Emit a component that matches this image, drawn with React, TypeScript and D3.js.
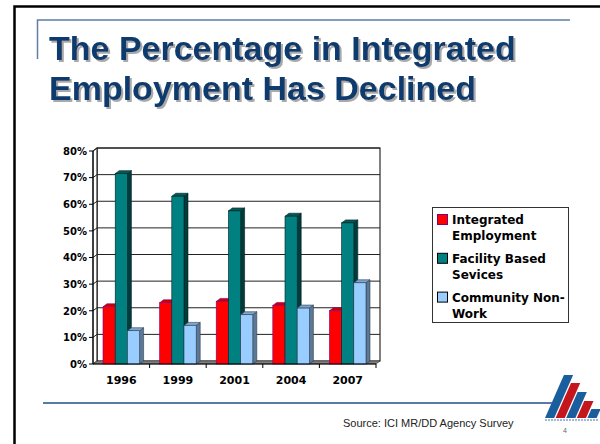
import React from "react";
import * as d3 from "d3";

const years = ["1996", "1999", "2001", "2004", "2007"];
const integrated = [21.5, 23, 23.5, 22, 20];
const facility = [71.5, 63, 57.5, 55.5, 53];
const community = [12.5, 14.5, 18.5, 21, 30.5];
const yTicks = [0, 10, 20, 30, 40, 50, 60, 70, 80];
const legendLines = [
  ["Integrated", "Employment"],
  ["Facility Based", "Sevices"],
  ["Community Non-", "Work"],
];
const titleLines = ["The Percentage in Integrated", "Employment Has Declined"];
const sourceText = "Source: ICI MR/DD Agency Survey";

const seriesStyle = [
  { front: "#FF0000", side: "#990000", top: "#CC0000", stroke: "#800080" },
  { front: "#008080", side: "#003C3C", top: "#005A5A", stroke: "#002020" },
  { front: "#99CCFF", side: "#5B7896", top: "#7CA6CF", stroke: "#2E3E50" },
];

export default function App() {
  const W = 600, H = 444;
  const dx = 4, dy = -3;
  const x = d3.scaleBand<string>().domain(years).range([93, 376]).padding(0);
  const inner = d3
    .scaleBand<number>()
    .domain([0, 1, 2])
    .range([0, x.bandwidth()])
    .paddingInner(0)
    .paddingOuter(0.82);
  const y = d3.scaleLinear().domain([0, 80]).range([364, 151]);
  const data = [integrated, facility, community];
  const x0 = x.range()[0], x1 = x.range()[1];
  const y0 = y(0), yTop = y(80);
  const bw = inner.bandwidth();

  const bars: React.ReactNode[] = [];
  years.forEach((yr, ci) => {
    data.forEach((vals, si) => {
      const bx = (x(yr) as number) + (inner(si) as number);
      const by = y(vals[ci]);
      const s = seriesStyle[si];
      const side = [
        [bx + bw, by],
        [bx + bw + dx, by + dy],
        [bx + bw + dx, y0 + dy],
        [bx + bw, y0],
      ];
      const top = [
        [bx, by],
        [bx + dx, by + dy],
        [bx + bw + dx, by + dy],
        [bx + bw, by],
      ];
      bars.push(
        <g key={`${ci}-${si}`}>
          <polygon points={side.map((p) => p.join(",")).join(" ")} fill={s.side} stroke={s.stroke} strokeWidth={0.6} />
          <polygon points={top.map((p) => p.join(",")).join(" ")} fill={s.top} stroke={s.stroke} strokeWidth={0.6} />
          <rect x={bx} y={by} width={bw} height={y0 - by} fill={s.front} stroke={s.stroke} strokeWidth={0.6} />
        </g>
      );
    });
  });

  const titleFont = { fontFamily: "'Liberation Sans', Arial, sans-serif", fontWeight: 700, fontSize: 34 };
  const chartFont = "'DejaVu Sans', Verdana, sans-serif";

  const logoTops = [375, 383, 392, 401, 409];
  const logoColors = ["#1B5E9E", "#C4161C", "#1B5E9E", "#C4161C", "#1B5E9E"];
  const k = 0.44;

  return (
    <svg width={W} height={H} style={{ position: "absolute", left: 0, top: 0, background: "#fff" }}>
      <defs>
        <filter id="tshadow" x="-5%" y="-20%" width="110%" height="150%">
          <feDropShadow dx={2} dy={2} stdDeviation={0.6} floodColor="#9A9A9A" floodOpacity={0.85} />
        </filter>
      </defs>
      <rect x={0} y={0} width={W} height={H} fill="#fff" />
      {/* slide frame */}
      <path d={`M14.5,${H} L14.5,6.5 L${W},6.5`} fill="none" stroke="#000" strokeWidth={2.5} />
      {/* title accent */}
      <path d="M37.5,59 L37.5,20 L570,20" fill="none" stroke="#5B7FA6" strokeWidth={1.5} />
      <g filter="url(#tshadow)">
        {titleLines.map((t, i) => (
          <text key={i} x={49} y={60 + i * 40} fill="#0B3A6E" {...titleFont}>{t}</text>
        ))}
      </g>

      {/* walls */}
      <rect x={x0 + dx} y={yTop + dy} width={x1 - x0} height={y0 - yTop} fill="#fff" stroke="#000" strokeWidth={1} />
      <polygon
        points={`${x0},${y0} ${x0},${yTop} ${x0 + dx},${yTop + dy} ${x0 + dx},${y0 + dy}`}
        fill="#fff"
        stroke="#000"
        strokeWidth={1}
      />
      {yTicks.filter((t) => t > 0).map((t) => (
        <polyline
          key={t}
          points={`${x0},${y(t)} ${x0 + dx},${y(t) + dy} ${x1 + dx},${y(t) + dy}`}
          fill="none"
          stroke="#222"
          strokeWidth={1}
        />
      ))}
      {/* floor */}
      <polygon
        points={`${x0},${y0} ${x1},${y0} ${x1 + dx},${y0 + dy} ${x0 + dx},${y0 + dy}`}
        fill="#808080"
        stroke="#333"
        strokeWidth={0.6}
      />
      {bars}
      {/* axes */}
      <line x1={x0} y1={yTop} x2={x0} y2={y0} stroke="#000" strokeWidth={1} />
      <line x1={x0} y1={y0} x2={x1} y2={y0} stroke="#000" strokeWidth={1} />
      {yTicks.map((t) => (
        <g key={t}>
          <line x1={x0 - 4} y1={y(t)} x2={x0} y2={y(t)} stroke="#000" strokeWidth={1} />
          <text x={87} y={y(t) + 3.8} textAnchor="end" fontFamily={chartFont} fontWeight={700} fontSize={10} fill="#000">
            {t}%
          </text>
        </g>
      ))}
      {years.map((yr) => (
        <g key={yr}>
          <line x1={(x(yr) as number) + x.bandwidth()} y1={y0} x2={(x(yr) as number) + x.bandwidth()} y2={y0 + 4} stroke="#000" strokeWidth={1} />
          <text
            x={(x(yr) as number) + x.bandwidth() / 2}
            y={384}
            textAnchor="middle"
            fontFamily={chartFont}
            fontWeight={700}
            fontSize={11}
            fill="#000"
          >
            {yr}
          </text>
        </g>
      ))}

      {/* legend */}
      <rect x={432.5} y={207.5} width={136} height={115} fill="#fff" stroke="#333" strokeWidth={1} />
      {legendLines.map((lines, i) => {
        const base = 224 + i * 38.8;
        const s = seriesStyle[i];
        return (
          <g key={i}>
            <rect x={437.5} y={base - 9.5} width={10} height={10} fill={s.front} stroke={i === 0 ? "#800080" : "#000"} strokeWidth={1} />
            {lines.map((l, j) => (
              <text key={j} x={452} y={base + j * 16} fontFamily={chartFont} fontWeight={700} fontSize={12} fill="#000">
                {l}
              </text>
            ))}
          </g>
        );
      })}

      {/* footer */}
      <line x1={43} y1={403} x2={560} y2={403} stroke="#1F4E8C" strokeWidth={1.5} />
      <text x={343} y={427} fontFamily="'Liberation Sans', Arial, sans-serif" fontSize={11} fill="#222">
        {sourceText}
      </text>
      <text x={565} y={433} fontFamily="'Liberation Sans', Arial, sans-serif" fontSize={7} fill="#666" textAnchor="middle">
        4
      </text>
      {/* logo */}
      {logoTops.map((t, i) => {
        const bl = 545 + i * 10.6;
        const br = bl + 9.2;
        const h = 418 - t;
        return (
          <polygon
            key={i}
            points={`${bl},418 ${br},418 ${br + h * k},${t} ${bl + h * k},${t}`}
            fill={logoColors[i]}
          />
        );
      })}
      <line x1={545} y1={420} x2={598} y2={420} stroke="#7FA3D0" strokeWidth={1.5} strokeDasharray="2 1" />
    </svg>
  );
}
